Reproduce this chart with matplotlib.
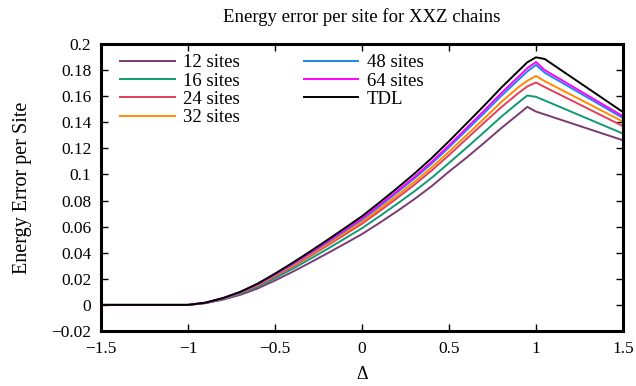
import matplotlib
matplotlib.use("Agg")
import matplotlib.pyplot as plt
from matplotlib.ticker import MultipleLocator, FuncFormatter

# ── data: energy error per site vs anisotropy Delta ───────────────────────────
delta = [-1.5, -1.0, -0.9, -0.8, -0.7, -0.6, -0.5, -0.4, -0.3, -0.2, -0.1, 0.0,
         0.1, 0.2, 0.3, 0.4, 0.5, 0.6, 0.7, 0.8, 0.9, 0.95, 1.0, 1.05, 1.5]

err_12 = [0.0, 0.0, 0.0013, 0.0040, 0.0077, 0.0126, 0.0187, 0.0253, 0.0323, 0.0395,
          0.0468, 0.0543, 0.0628, 0.0717, 0.0810, 0.0910, 0.1022, 0.1128, 0.1240,
          0.1355, 0.1463, 0.1518, 0.1482, 0.1460, 0.1262]
err_16 = [0.0, 0.0, 0.0015, 0.0044, 0.0085, 0.0139, 0.0205, 0.0276, 0.0351, 0.0428,
          0.0508, 0.0588, 0.0679, 0.0773, 0.0870, 0.0974, 0.1088, 0.1204, 0.1322,
          0.1442, 0.1553, 0.1605, 0.1595, 0.1567, 0.1313]
err_24 = [0.0, 0.0, 0.0016, 0.0047, 0.0091, 0.0148, 0.0218, 0.0293, 0.0372, 0.0454,
          0.0538, 0.0622, 0.0718, 0.0817, 0.0920, 0.1030, 0.1148, 0.1272, 0.1395,
          0.1515, 0.1625, 0.1675, 0.1705, 0.1670, 0.1370]
err_32 = [0.0, 0.0, 0.0016, 0.0049, 0.0094, 0.0153, 0.0225, 0.0301, 0.0382, 0.0465,
          0.0551, 0.0637, 0.0735, 0.0837, 0.0942, 0.1054, 0.1175, 0.1300, 0.1426,
          0.1555, 0.1670, 0.1718, 0.1755, 0.1715, 0.1405]
err_48 = [0.0, 0.0, 0.0016, 0.0050, 0.0096, 0.0157, 0.0231, 0.0310, 0.0393, 0.0478,
          0.0566, 0.0654, 0.0755, 0.0860, 0.0968, 0.1083, 0.1208, 0.1338, 0.1468,
          0.1602, 0.1727, 0.1790, 0.1840, 0.1780, 0.1432]
err_64 = [0.0, 0.0, 0.0017, 0.0051, 0.0098, 0.0159, 0.0234, 0.0314, 0.0398, 0.0485,
          0.0574, 0.0663, 0.0766, 0.0871, 0.0980, 0.1097, 0.1224, 0.1355, 0.1487,
          0.1623, 0.1750, 0.1815, 0.1862, 0.1800, 0.1446]
err_tdl = [0.0, 0.0, 0.0017, 0.0052, 0.0100, 0.0163, 0.0240, 0.0322, 0.0408, 0.0497,
           0.0588, 0.0680, 0.0785, 0.0893, 0.1005, 0.1125, 0.1255, 0.1390, 0.1525,
           0.1665, 0.1795, 0.1860, 0.1898, 0.1885, 0.1478]

labels = ["12 sites", "16 sites", "24 sites", "32 sites", "48 sites", "64 sites", "TDL"]
series = [err_12, err_16, err_24, err_32, err_48, err_64, err_tdl]
colors = ["#7a3a74", "#0f9a72", "#e43f5a", "#ff8a00", "#1c86ee", "#ff00ff", "#000000"]

# ── figure ────────────────────────────────────────────────────────────────────
plt.rcParams["font.family"] = ["Liberation Serif", "DejaVu Serif"]
plt.rcParams["font.size"] = 12

fig = plt.figure(figsize=(6.36, 3.86), dpi=100)
ax = fig.add_axes([0.1588, 0.1425, 0.8208, 0.7435])

for y, lab, c in zip(series, labels, colors):
    ax.plot(delta, y, color=c, lw=1.4, label=lab)

ax.set_xlim(-1.5, 1.5)
ax.set_ylim(-0.02, 0.2)
ax.xaxis.set_major_locator(MultipleLocator(0.5))
ax.yaxis.set_major_locator(MultipleLocator(0.02))

fmt = FuncFormatter(lambda v, pos: ("%g" % round(v, 6)).replace("-", "\u2212"))
ax.xaxis.set_major_formatter(fmt)
ax.yaxis.set_major_formatter(fmt)

ax.tick_params(direction="in", length=5, width=1, top=True, right=True,
               labelsize=12.5, pad=7)
for s in ax.spines.values():
    s.set_linewidth(2.2)

ax.set_title("Energy error per site for XXZ chains", fontsize=13.5, pad=16)
ax.set_xlabel("\u0394", fontsize=13, labelpad=7)
ax.set_ylabel("Energy Error per Site", fontsize=14.5, labelpad=14)

ax.legend(ncol=2, frameon=False, loc="upper left", bbox_to_anchor=(0.012, 1.01),
          fontsize=13.5, handlelength=2.9, handletextpad=0.45, columnspacing=3.4,
          labelspacing=0.06, borderaxespad=0.3)

fig.savefig("out.png", dpi=100)
